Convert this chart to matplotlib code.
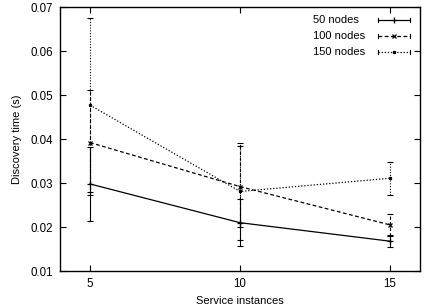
import matplotlib
matplotlib.use("Agg")
import matplotlib.pyplot as plt
from matplotlib.lines import Line2D

plt.rcParams['font.family'] = ['Liberation Sans', 'DejaVu Sans']

instances = [5, 10, 15]
labels = ["50 nodes", "100 nodes", "150 nodes"]
time_50 = [0.0298, 0.0210, 0.0168]
err_50 = [0.0083, 0.0053, 0.0014]
time_100 = [0.0392, 0.0292, 0.0205]
err_100 = [0.0120, 0.0092, 0.0025]
time_150 = [0.0477, 0.0281, 0.0311]
err_150 = [0.0198, 0.0110, 0.0037]

fig = plt.figure(figsize=(4.26, 3.06), dpi=100)
ax = fig.add_axes([0.141, 0.114, 0.845, 0.863])

styles = [('-', '+', 4), ((0, (3, 2)), 'x', 3), ((0, (1, 1.5)), 's', 2)]
series = [(time_50, err_50), (time_100, err_100), (time_150, err_150)]
for (vals, errs), (ls, mk, ms) in zip(series, styles):
    ax.plot(instances, vals, color='black', linestyle=ls, linewidth=0.9)
    eb = ax.errorbar(instances, vals, yerr=errs, fmt='none', ecolor='black',
                     elinewidth=0.8, capsize=2, capthick=0.8)
    eb[2][0].set_linestyle(ls)
    ax.plot(instances, vals, linestyle='none', marker=mk, markersize=ms,
            color='black', markeredgewidth=0.9)

# gnuplot-style key: left-aligned labels, sample line with end bars
key_rows = [0.951, 0.890, 0.830]
for lab, (ls, mk, ms), yk in zip(labels, styles, key_rows):
    ax.text(0.703, yk, lab, transform=ax.transAxes, fontsize=8,
            ha='left', va='center')
    ax.add_line(Line2D([0.883, 0.972], [yk, yk], transform=ax.transAxes,
                       color='black', linestyle=ls, linewidth=0.9))
    ax.add_line(Line2D([0.9275], [yk], transform=ax.transAxes, color='black',
                       linestyle='none', marker=mk, markersize=ms,
                       markeredgewidth=0.9))
    for xe in (0.883, 0.972):
        ax.add_line(Line2D([xe, xe], [yk - 0.008, yk + 0.008],
                           transform=ax.transAxes, color='black',
                           linewidth=0.8))

ax.set_xlim(4, 16)
ax.set_ylim(0.01, 0.07)
ax.set_xticks(instances)
ax.set_yticks([0.01, 0.02, 0.03, 0.04, 0.05, 0.06, 0.07])
ax.set_yticklabels(["0.01", "0.02", "0.03", "0.04", "0.05", "0.06", "0.07"])
ax.tick_params(direction='in', top=True, right=True, length=4, width=0.8,
               labelsize=8.3, pad=5)
for s in ax.spines.values():
    s.set_linewidth(1.0)

ax.set_xlabel("Service instances", fontsize=8, labelpad=4)
ax.set_ylabel("Discovery time (s)", fontsize=8, labelpad=6)

fig.savefig("out.png", dpi=100)
